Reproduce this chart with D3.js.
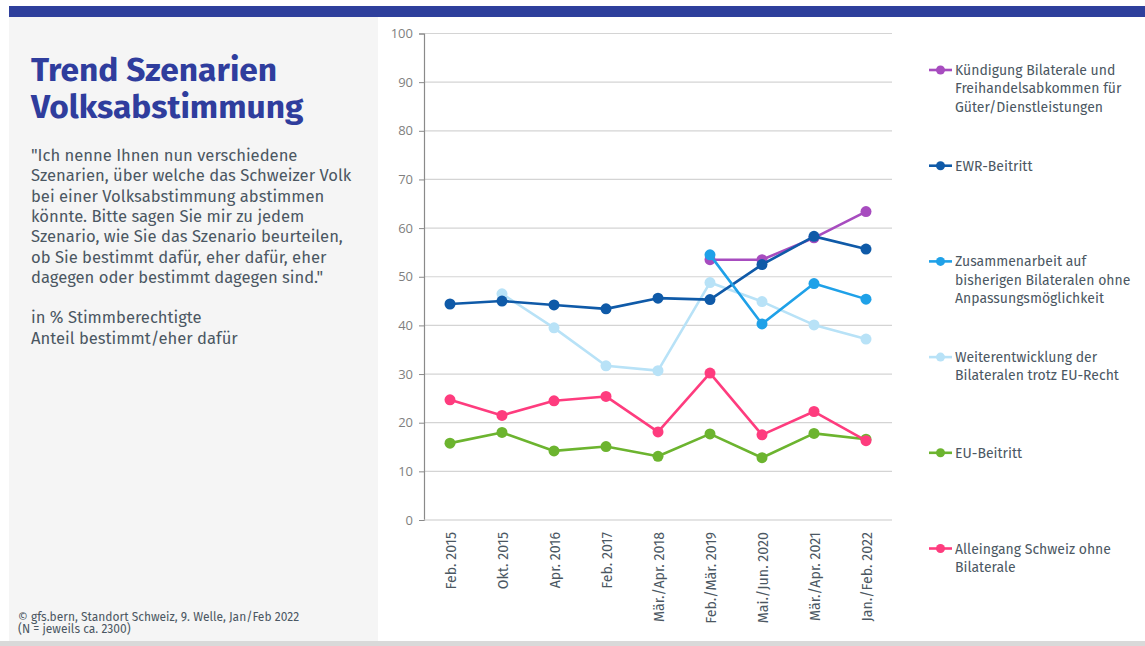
<!DOCTYPE html>
<html><head><meta charset="utf-8">
<script src="https://cdn.jsdelivr.net/npm/d3@7"></script>
<style>
html,body{margin:0;padding:0;background:#fff;}
svg{display:block;}
</style></head>
<body>
<svg id="chart" width="1145" height="646"></svg>
<script>
const categories = ["Feb. 2015","Okt. 2015","Apr. 2016","Feb. 2017","Mär./Apr. 2018","Feb./Mär. 2019","Mai./Jun. 2020","Mär./Apr. 2021","Jan./Feb. 2022"];
const kuendigung = [null,null,null,null,null,53.5,53.5,58.0,63.4];
const ewr = [44.4,45.0,44.2,43.4,45.6,45.3,52.5,58.3,55.7];
const zusammenarbeit = [null,null,null,null,null,54.5,40.3,48.6,45.4];
const weiterentwicklung = [null,46.5,39.5,31.7,30.7,48.8,44.9,40.1,37.2];
const euBeitritt = [15.8,18.0,14.2,15.1,13.1,17.7,12.8,17.8,16.6];
const alleingang = [24.7,21.5,24.5,25.4,18.1,30.2,17.5,22.3,16.3];
const yTicks = [0,10,20,30,40,50,60,70,80,90,100];

const seriesNames = {
  kuendigung: ["Kündigung Bilaterale und","Freihandelsabkommen für","Güter/Dienstleistungen"],
  ewr: ["EWR-Beitritt"],
  zusammenarbeit: ["Zusammenarbeit auf","bisherigen Bilateralen ohne","Anpassungsmöglichkeit"],
  weiterentwicklung: ["Weiterentwicklung der","Bilateralen trotz EU-Recht"],
  eu: ["EU-Beitritt"],
  alleingang: ["Alleingang Schweiz ohne","Bilaterale"]
};
const colors = {
  kuendigung:"#a74cbf", ewr:"#0f5aa8", zusammenarbeit:"#1fa1e8",
  weiterentwicklung:"#b8e2f7", eu:"#6cb42f", alleingang:"#fe3c7e"
};
const legendOrder = ["kuendigung","ewr","zusammenarbeit","weiterentwicklung","eu","alleingang"];
const drawOrder = [
  ["weiterentwicklung", weiterentwicklung],
  ["eu", euBeitritt],
  ["alleingang", alleingang],
  ["kuendigung", kuendigung],
  ["ewr", ewr],
  ["zusammenarbeit", zusammenarbeit]
];

const svg = d3.select("#chart");
const FONT = "'Fira Sans','Noto Sans','Open Sans',sans-serif";
const textCol = "#4b5762";

// backgrounds
svg.append("rect").attr("x",9).attr("y",17).attr("width",369).attr("height",625).attr("fill","#f5f5f5");
svg.append("rect").attr("x",9).attr("y",6).attr("width",1136).attr("height",11).attr("fill","#2e3f9c");
svg.append("rect").attr("x",0).attr("y",641).attr("width",1145).attr("height",5).attr("fill","#d9d9d9");

// title
const title = svg.append("text").attr("font-family",FONT).attr("font-weight","bold")
  .attr("font-size",33.5).attr("fill","#2f3d9d");
title.append("tspan").attr("x",31).attr("y",81).text("Trend Szenarien");
title.append("tspan").attr("x",31).attr("y",118).text("Volksabstimmung");

const intro = ["\"Ich nenne Ihnen nun verschiedene","Szenarien, über welche das Schweizer Volk","bei einer Volksabstimmung abstimmen","könnte. Bitte sagen Sie mir zu jedem","Szenario, wie Sie das Szenario beurteilen,","ob Sie bestimmt dafür, eher dafür, eher","dagegen oder bestimmt dagegen sind.\"","","in % Stimmberechtigte","Anteil bestimmt/eher dafür"];
const it = svg.append("text").attr("font-family",FONT).attr("font-size",16.6).attr("fill",textCol);
intro.forEach((l,i)=> it.append("tspan").attr("x",31).attr("y",161+i*20.3).text(l));

const foot = svg.append("text").attr("font-family",FONT).attr("font-size",12).attr("fill",textCol);
foot.append("tspan").attr("x",18).attr("y",621).text("©  gfs.bern, Standort Schweiz, 9. Welle, Jan/Feb 2022");
foot.append("tspan").attr("x",18).attr("y",633).text("(N = jeweils ca. 2300)");

// scales
const x = d3.scalePoint().domain(categories).range([424,892]).padding(0.5);
const y = d3.scaleLinear().domain([0,100]).range([520,33.5]);

// grid
svg.append("g").selectAll("line").data(yTicks.filter(d=>d>0)).join("line")
  .attr("x1",424).attr("x2",892).attr("y1",d=>y(d)).attr("y2",d=>y(d))
  .attr("stroke","#d4d4d4").attr("stroke-width",1.2);

// y axis
const ya = svg.append("g").attr("transform","translate(424,0)")
  .call(d3.axisLeft(y).tickValues(yTicks).tickSize(5).tickPadding(6));
ya.select(".domain").attr("stroke","#8a8a8a").attr("stroke-width",1.2);
ya.selectAll(".tick line").attr("stroke","#8a8a8a");
ya.selectAll("text").attr("font-family","'Open Sans','Noto Sans',sans-serif").attr("font-size",13).attr("fill","#7f7f7f");

// x axis
const xa = svg.append("g").attr("transform","translate(0,520)")
  .call(d3.axisBottom(x).tickSize(0).tickPadding(0));
xa.select(".domain").attr("stroke","#c9c9c9").attr("stroke-width",1.2).attr("d","M424,0H892");
xa.selectAll("text").attr("font-family",FONT).attr("font-size",14.2).attr("fill",textCol)
  .attr("text-anchor","end").attr("dy",null)
  .attr("transform","translate(0,12) rotate(-90)").attr("dx",0).attr("y",5).attr("x",0);

// series
const line = d3.line().defined(d=>d.v!=null).x(d=>x(d.c)).y(d=>y(d.v));
drawOrder.forEach(([key,vals])=>{
  const pts = categories.map((c,i)=>({c, v: vals[i]}));
  const g = svg.append("g");
  g.append("path").datum(pts).attr("d",line).attr("fill","none")
    .attr("stroke",colors[key]).attr("stroke-width",2.6).attr("stroke-linejoin","round");
  g.selectAll("circle").data(pts.filter(d=>d.v!=null)).join("circle")
    .attr("cx",d=>x(d.c)).attr("cy",d=>y(d.v)).attr("r",5.5).attr("fill",colors[key]);
});

// legend
legendOrder.forEach((key,i)=>{
  const gy = 70 + i*95.7;
  const g = svg.append("g");
  g.append("line").attr("x1",929).attr("x2",952).attr("y1",gy).attr("y2",gy)
    .attr("stroke",colors[key]).attr("stroke-width",2.6);
  g.append("circle").attr("cx",940.5).attr("cy",gy).attr("r",4.5).attr("fill",colors[key]);
  const t = g.append("text").attr("font-family",FONT).attr("font-size",14).attr("fill",textCol);
  seriesNames[key].forEach((l,j)=> t.append("tspan").attr("x",955).attr("y",gy+5+j*18.3).text(l));
});
</script>
</body></html>
